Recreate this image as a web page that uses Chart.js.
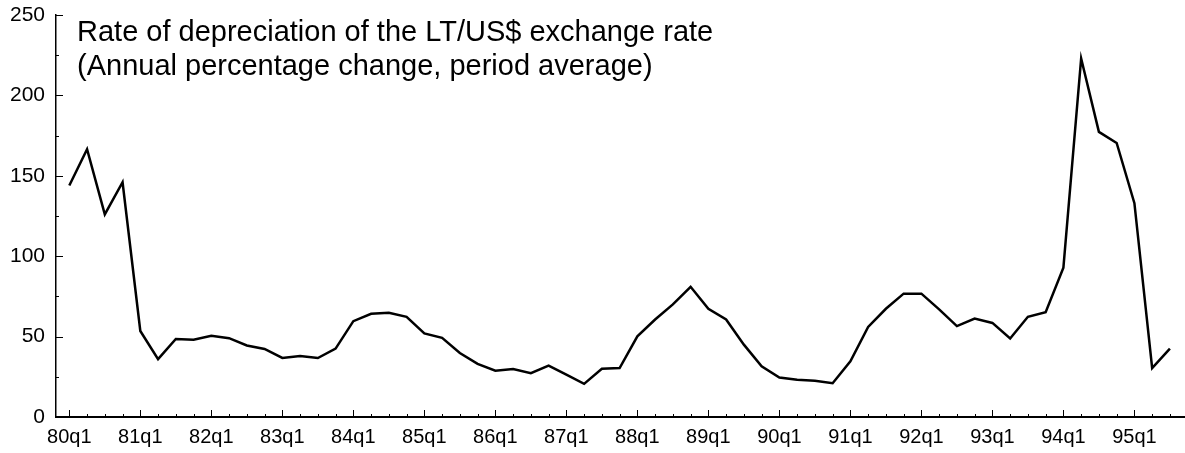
<!DOCTYPE html>
<html>
<head>
<meta charset="utf-8">
<script src="https://cdn.jsdelivr.net/npm/chart.js@4.4.1/dist/chart.umd.min.js"></script>
<style>
  html, body { margin: 0; padding: 0; background: #fff; }
  #wrap { width: 1185px; height: 453px; position: relative; }
</style>
</head>
<body>
<div id="wrap"><canvas id="chart"></canvas></div>
<script>
/* ==========================================================
   DATA
   ==========================================================*/
const titleLines = [
  "Rate of depreciation of the LT/US$ exchange rate",
  "(Annual percentage change, period average)",
];

// one label per quarter, 80q1 .. 95q3
const quarters = [
  "80q1", "80q2", "80q3", "80q4", "81q1", "81q2", "81q3", "81q4",
  "82q1", "82q2", "82q3", "82q4", "83q1", "83q2", "83q3", "83q4",
  "84q1", "84q2", "84q3", "84q4", "85q1", "85q2", "85q3", "85q4",
  "86q1", "86q2", "86q3", "86q4", "87q1", "87q2", "87q3", "87q4",
  "88q1", "88q2", "88q3", "88q4", "89q1", "89q2", "89q3", "89q4",
  "90q1", "90q2", "90q3", "90q4", "91q1", "91q2", "91q3", "91q4",
  "92q1", "92q2", "92q3", "92q4", "93q1", "93q2", "93q3", "93q4",
  "94q1", "94q2", "94q3", "94q4", "95q1", "95q2", "95q3",
];

const depreciation = [
  144, 166.5, 126, 146, 53.5, 36, 48.5, 48,
  50.5, 49, 44.5, 42.3, 36.7, 38, 36.7, 42.5,
  59.6, 64.2, 64.8, 62.3, 52, 49.2, 39.8, 33,
  28.8, 29.8, 27.3, 32, 26.3, 20.6, 30, 30.4,
  50.2, 60.6, 70, 81, 67.3, 60.6, 45, 31.5,
  24.6, 23.1, 22.5, 21, 34.6, 56, 67.3, 76.7,
  76.7, 66.9, 56.5, 61.2, 58.5, 48.8, 62.3, 65.2,
  92.9, 223, 177.3, 170.4, 133, 30.4, 42.5,
];

// labelled ticks, one per year (every 4th quarter)
const yearTicks = [
  "80q1", "81q1", "82q1", "83q1", "84q1", "85q1", "86q1", "87q1",
  "88q1", "89q1", "90q1", "91q1", "92q1", "93q1", "94q1", "95q1",
];
const yTicks = [0, 50, 100, 150, 200, 250];
const yMinorTicks = [25, 75, 125, 175, 225];

const FONT = '"Liberation Sans", Arial, Helvetica, sans-serif';

/* ==========================================================
   OVERLAY: inward ticks + title inside the plot
   ==========================================================*/
const overlay = {
  id: "overlay",
  afterDraw(chart) {
    const { ctx, chartArea, scales } = chart;
    const x = scales.x;
    const y = scales.y;
    ctx.save();
    ctx.strokeStyle = "#000";
    ctx.lineWidth = 1;

    // quarter ticks on the x axis, pointing up
    quarters.forEach((q, i) => {
      const px = Math.round(x.getPixelForValue(i)) + 0.5;
      const len = i % 4 === 0 ? 7 : 3;
      ctx.beginPath();
      ctx.moveTo(px, chartArea.bottom);
      ctx.lineTo(px, chartArea.bottom - len);
      ctx.stroke();
    });

    // y ticks, pointing right
    yTicks.concat(yMinorTicks).forEach((v) => {
      const py = Math.round(y.getPixelForValue(v)) + 0.5;
      const len = v % 50 === 0 ? 7 : 3;
      ctx.beginPath();
      ctx.moveTo(chartArea.left, py);
      ctx.lineTo(chartArea.left + len, py);
      ctx.stroke();
    });

    // title
    ctx.fillStyle = "#000";
    ctx.font = "29px " + FONT;
    ctx.textAlign = "left";
    ctx.textBaseline = "alphabetic";
    titleLines.forEach((t, k) => {
      ctx.fillText(t, chartArea.left + 21, 41 + k * 34);
    });
    ctx.restore();
  },
};

/* ==========================================================
   CHART
   ==========================================================*/
new Chart(document.getElementById("chart"), {
  type: "line",
  data: {
    datasets: [
      {
        data: depreciation.map((v, i) => ({ x: i, y: v })),
        borderColor: "#000",
        borderWidth: 2.5,
        pointRadius: 0,
        tension: 0,
        fill: false,
      },
    ],
  },
  options: {
    responsive: true,
    maintainAspectRatio: false,
    animation: false,
    layout: { padding: { top: 15, right: 0, bottom: 0, left: 0 } },
    plugins: {
      legend: { display: false },
      tooltip: { enabled: false },
    },
    scales: {
      x: {
        type: "linear",
        min: -0.75,
        max: 62.85,
        afterBuildTicks: (scale) => {
          scale.ticks = yearTicks.map((_, j) => ({ value: j * 4 }));
        },
        afterFit: (scale) => {
          scale.height = 36;
          scale.paddingLeft = 0;
          scale.paddingRight = 0;
        },
        ticks: {
          autoSkip: false,
          maxRotation: 0,
          padding: 8,
          color: "#000",
          font: { family: FONT, size: 20 },
          callback: (v) => yearTicks[v / 4],
        },
        grid: { display: true, drawOnChartArea: false, drawTicks: false },
        border: { display: true, color: "#000", width: 2 },
      },
      y: {
        min: 0,
        max: 250,
        afterBuildTicks: (scale) => {
          scale.ticks = yTicks.map((v) => ({ value: v }));
        },
        afterFit: (scale) => {
          scale.width = 56;
          scale.paddingTop = 0;
          scale.paddingBottom = 0;
        },
        ticks: {
          padding: 11,
          color: "#000",
          font: { family: FONT, size: 21 },
        },
        grid: { display: true, drawOnChartArea: false, drawTicks: false },
        border: { display: true, color: "#000", width: 1.5 },
      },
    },
  },
  plugins: [overlay],
});
</script>
</body>
</html>
